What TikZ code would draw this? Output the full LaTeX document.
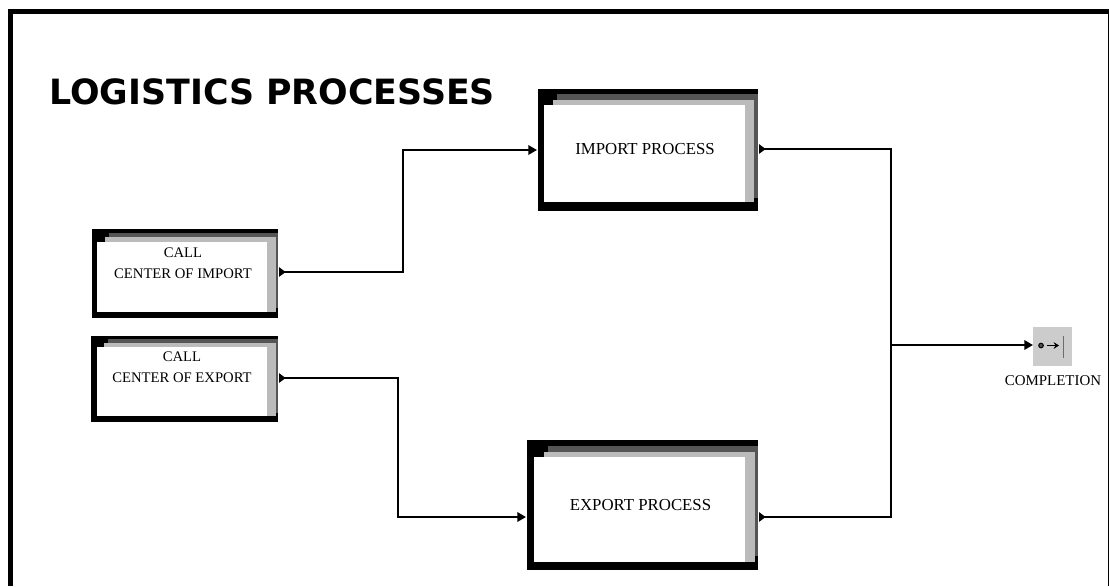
\documentclass[tikz,border=0pt]{standalone}
\usepackage{fontspec}
\setmainfont{Liberation Serif}
\newfontfamily\titlefont{DejaVu Sans}
\usetikzlibrary{arrows.meta,calc}
\definecolor{darkband}{HTML}{555555}
\definecolor{lightband}{HTML}{BBBBBB}
\definecolor{endgrey}{HTML}{CCCCCC}
\tikzset{
  outerbox/.style={fill=black,draw=none,inner sep=0pt,outer sep=0pt,minimum width=#1},
  boxh/.style={minimum height=#1},
  intip/.tip={Triangle[length=6.5pt,width=7pt]},
  outtip/.tip={Triangle[reversed,length=5pt,width=7pt]},
  wire/.style={line width=1.65pt,-intip},
  bothwire/.style={line width=1.65pt,outtip-intip},
  bothtail/.style={line width=1.65pt,outtip-outtip},
  smalltext/.style={font=\fontsize{11}{13}\selectfont,inner sep=0pt,align=center},
  bigtext/.style={font=\fontsize{12.6}{15}\selectfont,inner sep=0pt},
  endbox/.style={fill=endgrey,draw=none,inner sep=0pt,outer sep=0pt,minimum width=29.25pt,minimum height=29.25pt}
}
\begin{document}
\begin{tikzpicture}[x=0.75pt,y=-0.75pt]
\useasboundingbox (0,0) rectangle (1109,586);
% page frame
\fill[black] (8,9) rectangle (1109,14);
\fill[black] (8,9) rectangle (13,586);
\fill[black] (1107.5,9) rectangle (1109,586);
% title
\node[anchor=base west,inner sep=0pt,font=\titlefont\bfseries\fontsize{26.1}{30}\selectfont] (title) at (49,104.5) {LOGISTICS PROCESSES};
% IMPORT PROCESS box
\node[outerbox=165pt,boxh=91.5pt] (imp) at (648,150) {};
\fill[darkband] (557,94) rectangle (758,198);
\fill[lightband] (553,100) rectangle (754,202);
\fill[white] (544,105) rectangle (745,202);
\node[bigtext] (implabel) at (645,149.5) {IMPORT PROCESS};
% EXPORT PROCESS box
\node[outerbox=173.25pt,boxh=97.5pt] (exp) at (642.5,505) {};
\fill[darkband] (548,446) rectangle (758,556);
\fill[lightband] (544,452) rectangle (755,562);
\fill[white] (534,457) rectangle (745,562);
\node[bigtext] (explabel) at (640.5,505) {EXPORT PROCESS};
% CALL CENTER OF IMPORT box
\node[outerbox=139.5pt,boxh=66.75pt] (ci) at (185,273.5) {};
\fill[darkband] (109,233) rectangle (278,308);
\fill[lightband] (105,237) rectangle (276,312);
\fill[white] (97,242) rectangle (267,312);
\node[smalltext] (cilabel) at (183,263) {CALL\\[3pt]CENTER OF IMPORT};
% CALL CENTER OF EXPORT box
\node[outerbox=140.25pt,boxh=64.5pt] (ce) at (184.5,379) {};
\fill[darkband] (108,339) rectangle (278,413);
\fill[lightband] (104,343) rectangle (276,416);
\fill[white] (97,347) rectangle (267,416);
\node[smalltext] (celabel) at (182,367.5) {CALL\\[3pt]CENTER OF EXPORT};
% completion
\node[endbox] (compl) at (1052.5,346.5) {};
\node[smalltext,font=\fontsize{11.2}{13}\selectfont] (compllabel) at (1053,381) {COMPLETION};
\node[circle,draw=black,line width=0.8pt,fill=darkband,inner sep=0pt,minimum size=3.4pt] (dot) at (1041,345.5) {};
\coordinate (bartop) at (1063.5,336);
\coordinate (barbot) at (1063.5,358);
\draw[line width=1pt,-{Stealth[length=4pt,width=5pt]}] (1047,345.5) -- (1059,345.5);
\draw[line width=1.2pt,darkband!80!endgrey] (bartop) -- (barbot);
% ports
\coordinate (ciout) at ($(ci.east)+(1,-1.5)$);
\coordinate (ceout) at ($(ce.east)+(1,-1)$);
\coordinate (impin) at ($(imp.west)+(-1,0)$);
\coordinate (impout) at ($(imp.east)+(1,-1)$);
\coordinate (expin) at ($(exp.west)+(-1,12)$);
\coordinate (expout) at ($(exp.east)+(1,12)$);
\coordinate (trunk) at (891,345);
\coordinate (bend1) at (403,272);
\coordinate (bend2) at (398,378);
% connectors
\draw[bothwire] (ciout) -- (bend1) |- (impin);
\draw[bothwire] (ceout) -- (bend2) |- (expin);
\draw[bothtail] (impout) -| (trunk) |- (expout);
\draw[wire] (trunk) -- (trunk -| compl.west);
\end{tikzpicture}
\end{document}
